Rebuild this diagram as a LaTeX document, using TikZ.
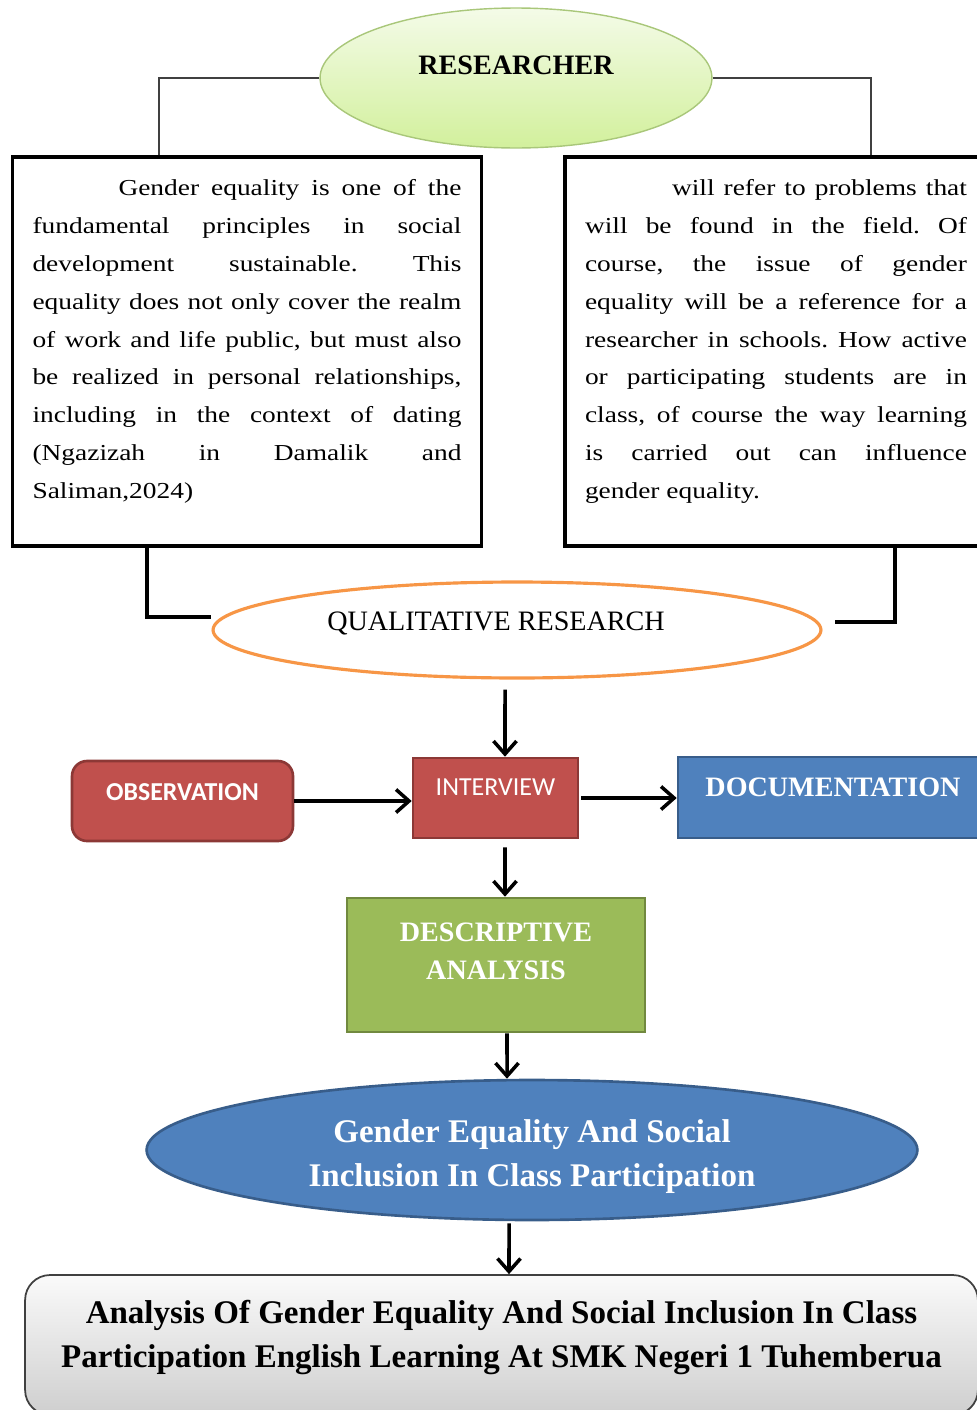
\documentclass[tikz,border=0pt]{standalone}
\usepackage{fontspec}
\setmainfont{Liberation Serif}
\newfontfamily\parafont{Liberation Serif}[FakeStretch=1.2]
\newfontfamily\calfont{Carlito}
\usetikzlibrary{arrows.meta,shapes.geometric}
\frenchspacing

\definecolor{ppred}{HTML}{C0504D}
\definecolor{ppredline}{HTML}{8C3836}
\definecolor{ppblue}{HTML}{4F81BD}
\definecolor{ppblueline}{HTML}{385D8A}
\definecolor{ppgreen}{HTML}{9BBB59}
\definecolor{ppgreenline}{HTML}{71893F}
\definecolor{pporange}{HTML}{F79646}
\definecolor{reslight}{HTML}{F4FBE8}
\definecolor{resdark}{HTML}{D2F09C}
\definecolor{resline}{HTML}{A9C77A}

\begin{document}
\begin{tikzpicture}[x=0.02cm,y=-0.02cm,
  parabox/.style={draw=black,line width=2pt,fill=white,inner xsep=0.4cm,inner ysep=0pt,
    minimum height=7.78cm,text depth=0.5cm,font=\parafont\fontsize{13}{21.5}\selectfont},
  redbox/.style={fill=ppred,draw=ppredline,line width=1.5pt,text=white,minimum height=1.6cm},
  link/.style={line width=2.2pt},
  thinlink/.style={line width=1pt,draw=black!75},
  arr/.style={line width=2pt,-{Straight Barb[length=2.6mm,width=4.6mm]}}]

\useasboundingbox (0,0) rectangle (977,1410);

\node[ellipse,minimum width=7.84cm,minimum height=2.8cm,inner sep=0pt,
  top color=reslight,bottom color=resdark,draw=resline,line width=0.8pt,
  font=\bfseries\fontsize{16}{19}\selectfont,text depth=0.52cm] (res) at (516,78) {RESEARCHER};

\node[parabox] (lbox) at (247,351.5) {\parbox[b]{8.58cm}{\hyphenpenalty=10000\tolerance=10000%
  \hspace*{1.72cm}Gender equality is one of the\linebreak
  fundamental principles in social\linebreak
  development sustainable. This\linebreak
  equality does not only cover the realm\linebreak
  of work and life public, but must also\linebreak
  be realized in personal relationships,\linebreak
  including in the context of dating\linebreak
  (Ngazizah in Damalik and\linebreak
  Saliman,2024)}};

\node[parabox] (rbox) at (776,351.5) {\parbox[b]{7.64cm}{\hyphenpenalty=10000\tolerance=10000%
  \hspace*{1.74cm}will refer to problems that\linebreak
  will be found in the field. Of\linebreak
  course, the issue of gender\linebreak
  equality will be a reference for a\linebreak
  researcher in schools. How active\linebreak
  or participating students are in\linebreak
  class, of course the way learning\linebreak
  is carried out can influence\linebreak
  gender equality.}};

\node[ellipse,minimum width=12.16cm,minimum height=1.92cm,inner sep=0pt,fill=white,
  draw=pporange,line width=1.8pt,font=\fontsize{16}{19}\selectfont,
  text depth=0.34cm] (qr) at (517,630) {QUALITATIVE RESEARCH\hspace*{0.84cm}};

\node[redbox,rounded corners=0.3cm,minimum width=4.42cm,font=\calfont\bfseries\fontsize{14.7}{17}\selectfont,
  text depth=0.36cm] (obs) at (182.5,801) {OBSERVATION};
\node[redbox,minimum width=3.3cm,font=\calfont\fontsize{14.8}{17}\selectfont,
  text depth=0.44cm] (intv) at (495.5,798) {INTERVIEW};
\node[fill=ppblue,draw=ppblueline,line width=1.5pt,text=white,minimum width=6.2cm,minimum height=1.62cm,
  font=\bfseries\fontsize{16}{19}\selectfont,text depth=0.4cm] (doc) at (833,797.5) {DOCUMENTATION};

\node[fill=ppgreen,draw=ppgreenline,line width=1.5pt,text=white,minimum width=5.96cm,minimum height=2.68cm,
  font=\bfseries\fontsize{16}{21.5}\selectfont,text depth=0.56cm] (desc) at (496,965)
  {\parbox[b]{5.6cm}{\centering DESCRIPTIVE\\ANALYSIS}};

\node[ellipse,minimum width=15.42cm,minimum height=2.8cm,inner sep=0pt,fill=ppblue,draw=ppblueline,
  line width=1.5pt,text=white,font=\bfseries\fontsize{18.8}{25}\selectfont,
  text height=1.61cm] (gesi) at (532,1150)
  {\parbox[b]{9.8cm}{\centering Gender Equality And Social\\Inclusion In Class Participation}};

\node[rounded corners=0.5cm,minimum width=19.06cm,minimum height=2.8cm,inner xsep=0.2cm,
  top color=gray!4,bottom color=gray!38,draw=black!75,line width=1pt,
  font=\bfseries\fontsize{18.8}{25}\selectfont,text depth=0.46cm] (title) at (501.5,1345)
  {\parbox[b]{18.6cm}{\centering Analysis Of Gender Equality And Social Inclusion In Class\\
   Participation English Learning At SMK Negeri 1 Tuhemberua}};

% researcher to both text boxes
\draw[thinlink] (res.west) -| ([xshift=2.96cm]lbox.north west);
\draw[thinlink] (res.east) -| ([xshift=6.16cm]rbox.north west);

% text boxes into the method
\draw[link] ([xshift=2.72cm]lbox.south west) |- ([yshift=0.26cm]qr.west);
\draw[link] ([xshift=6.64cm]rbox.south west) |- ([xshift=0.24cm,yshift=0.16cm]qr.east);

\draw[arr] ([xshift=-0.24cm,yshift=-0.2cm]qr.south) -- ([xshift=0.19cm]intv.north);
\draw[arr] (obs.east) -- (obs.east -| intv.west);
\draw[arr] ([xshift=0.04cm]intv.east) -- (intv.east -| doc.west);
\draw[arr] ([xshift=0.19cm,yshift=-0.16cm]intv.south) -- ([xshift=0.18cm]desc.north);
\draw[arr] ([xshift=0.22cm]desc.south) -- ([xshift=-0.5cm]gesi.north);
\draw[arr] ([xshift=-0.46cm,yshift=-0.04cm]gesi.south) -- ([xshift=0.15cm]title.north);
\end{tikzpicture}
\end{document}
